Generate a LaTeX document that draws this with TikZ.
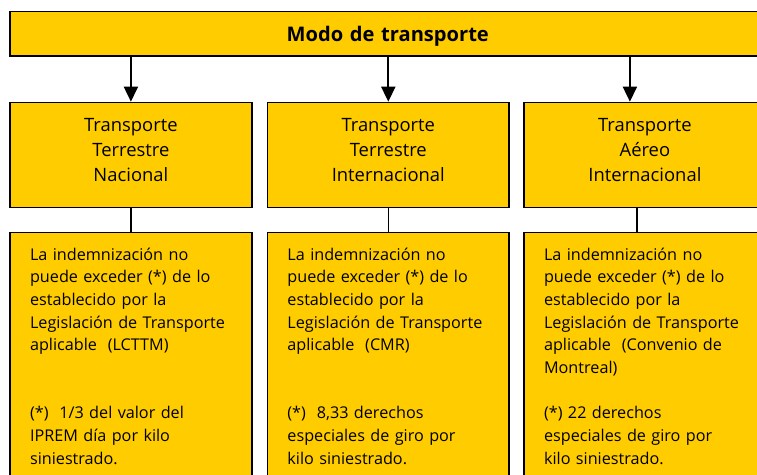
\documentclass[tikz,border=0pt]{standalone}
\usepackage{fontspec}
\setmainfont{Open Sans}
\usetikzlibrary{arrows.meta}
\definecolor{amarillo}{RGB}{255,204,0}
\hyphenpenalty=10000
\exhyphenpenalty=10000
\tikzset{
  caja/.style = {draw, line width=1.5pt, fill=amarillo, rectangle, inner sep=0pt},
  flecha/.style = {line width=1.8pt, -{Triangle[width=14pt, length=15pt]}},
  enlace/.style = {line width=1.5pt},
  titulo/.style = {caja, anchor=north west, text width=241.7pt, align=center,
    text height=29pt, text depth=76pt,
    font=\fontsize{18.4}{25.2}\selectfont},
  detalle/.style = {caja, anchor=north west, text width=201.7pt, inner xsep=20pt,
    text height=27.6pt, text depth=260pt, align=left,
    font=\fontsize{16.2}{22.7}\selectfont}
}

\begin{document}
\begin{tikzpicture}[x=1pt, y=-1pt]
  \useasboundingbox (0, 0) rectangle (757, 474);
  \clip (0, 0) rectangle (757, 474);

  \node[caja, anchor=north west, text width=756pt, align=center,
    text height=30pt, text depth=14.6pt,
    font=\bfseries\fontsize{20.1}{24}\selectfont] (modo) at (9, 10.7)
    {Modo de transporte};

  \node[titulo] (tn) at (9.3, 101.7) {Transporte\\Terrestre\\Nacional};
  \node[titulo] (ti) at (266.7, 101.7) {Transporte\\Terrestre\\Internacional};
  \node[titulo] (ai) at (523.3, 101.7) {Transporte\\Aéreo\\Internacional};

  \node[detalle] (dtn) at (9.3, 231.7) {La indemnización no\\puede exceder (*) de lo\\
    establecido por la\\Legislación de Transporte\\aplicable~ (LCTTM)\\[45.4pt]
    (*)~ 1/3 del valor del\\IPREM día por kilo\\siniestrado.};
  \node[detalle] (dti) at (266.7, 231.7) {La indemnización no\\puede exceder (*) de lo\\
    establecido por la\\Legislación de Transporte\\aplicable~ (CMR)\\[45.4pt]
    (*)~ 8,33 derechos\\especiales de giro por\\kilo siniestrado.};
  \node[detalle] (dai) at (523.3, 231.7) {La indemnización no\\puede exceder (*) de lo\\
    establecido por la\\Legislación de Transporte\\aplicable~ (Convenio de\\
    Montreal)\\[22.7pt]
    (*) 22 derechos\\especiales de giro por\\kilo siniestrado.};

  % flechas desde el modo de transporte
  \coordinate (aiin) at ([xshift=-15pt]ai.north);
  \draw[flecha] (modo.south -| tn.north) -- (tn.north);
  \draw[flecha] (modo.south -| ti.north) -- (ti.north);
  \draw[flecha] (modo.south -| aiin) -- (aiin);

  \coordinate (aiout) at ([xshift=-8pt]ai.south);
  \draw[enlace] (tn.south) -- (dtn.north -| tn.south);
  \draw[enlace] (ti.south) -- (dti.north -| ti.south);
  \draw[enlace] (aiout) -- (dai.north -| aiout);
\end{tikzpicture}
\end{document}
